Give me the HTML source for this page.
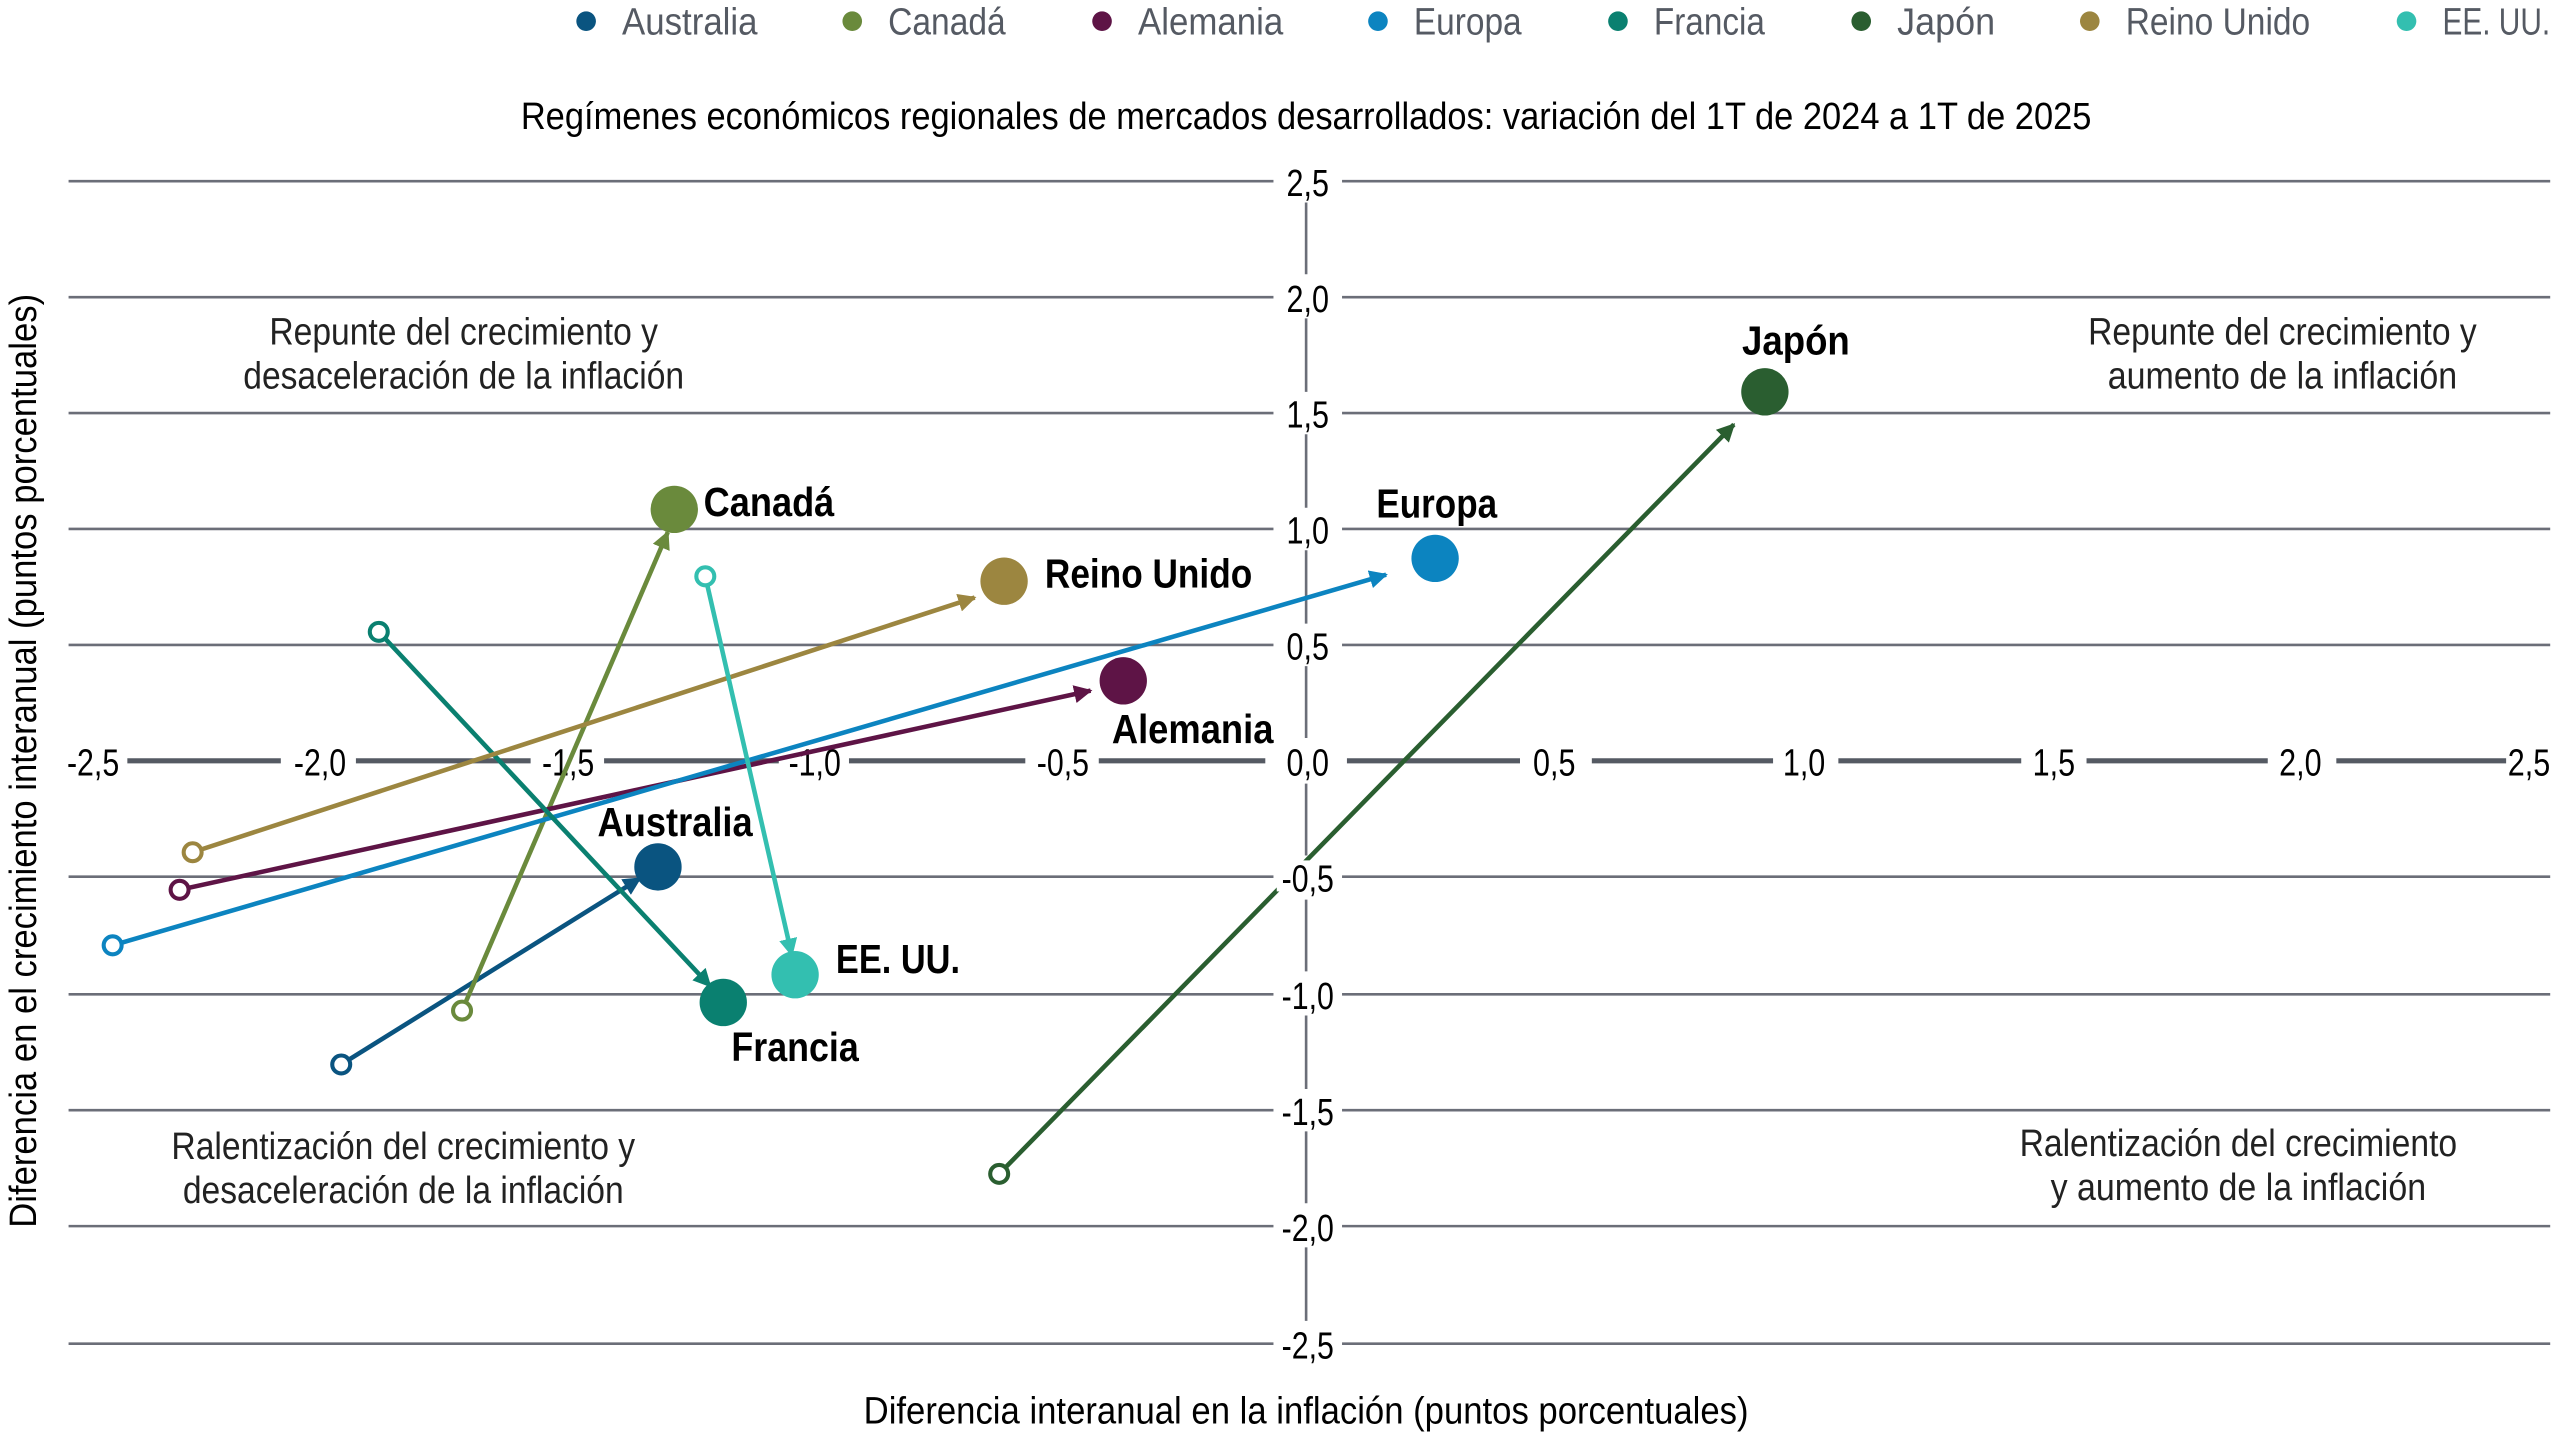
<!DOCTYPE html>
<html><head><meta charset="utf-8"><style>
html,body{margin:0;padding:0;background:#fff;}
svg{display:block;}
text{font-family:"Liberation Sans Narrow","Liberation Sans",sans-serif;}
</style></head><body>
<svg width="2560" height="1440" viewBox="0 0 1568 882" preserveAspectRatio="none" xmlns="http://www.w3.org/2000/svg">
<defs>
<marker id="m1" viewBox="0 0 10 10" refX="9" refY="5" markerWidth="4" markerHeight="4" orient="auto"><path d="M0,0L10,5L0,10z" fill="#0a5480"/></marker>
<marker id="m2" viewBox="0 0 10 10" refX="9" refY="5" markerWidth="4" markerHeight="4" orient="auto"><path d="M0,0L10,5L0,10z" fill="#6a8a3c"/></marker>
<marker id="m3" viewBox="0 0 10 10" refX="9" refY="5" markerWidth="4" markerHeight="4" orient="auto"><path d="M0,0L10,5L0,10z" fill="#5e1446"/></marker>
<marker id="m4" viewBox="0 0 10 10" refX="9" refY="5" markerWidth="4" markerHeight="4" orient="auto"><path d="M0,0L10,5L0,10z" fill="#0c84c0"/></marker>
<marker id="m5" viewBox="0 0 10 10" refX="9" refY="5" markerWidth="4" markerHeight="4" orient="auto"><path d="M0,0L10,5L0,10z" fill="#0a8070"/></marker>
<marker id="m6" viewBox="0 0 10 10" refX="9" refY="5" markerWidth="4" markerHeight="4" orient="auto"><path d="M0,0L10,5L0,10z" fill="#2a5e30"/></marker>
<marker id="m7" viewBox="0 0 10 10" refX="9" refY="5" markerWidth="4" markerHeight="4" orient="auto"><path d="M0,0L10,5L0,10z" fill="#9c8640"/></marker>
<marker id="m8" viewBox="0 0 10 10" refX="9" refY="5" markerWidth="4" markerHeight="4" orient="auto"><path d="M0,0L10,5L0,10z" fill="#33bfb0"/></marker>
</defs>

<!-- legend -->
<g font-size="23" fill="#555a63">
<circle cx="359" cy="13" r="6" fill="#0a5480"/><text x="381" y="21" textLength="83" lengthAdjust="spacingAndGlyphs">Australia</text>
<circle cx="522" cy="13" r="6" fill="#6a8a3c"/><text x="544" y="21" textLength="72" lengthAdjust="spacingAndGlyphs">Canadá</text>
<circle cx="675" cy="13" r="6" fill="#5e1446"/><text x="697" y="21" textLength="89" lengthAdjust="spacingAndGlyphs">Alemania</text>
<circle cx="844" cy="13" r="6" fill="#0c84c0"/><text x="866" y="21" textLength="66" lengthAdjust="spacingAndGlyphs">Europa</text>
<circle cx="991" cy="13" r="6" fill="#0a8070"/><text x="1013" y="21" textLength="68" lengthAdjust="spacingAndGlyphs">Francia</text>
<circle cx="1140" cy="13" r="6" fill="#2a5e30"/><text x="1162" y="21" textLength="60" lengthAdjust="spacingAndGlyphs">Japón</text>
<circle cx="1280" cy="13" r="6" fill="#9c8640"/><text x="1302" y="21" textLength="113" lengthAdjust="spacingAndGlyphs">Reino Unido</text>
<circle cx="1474" cy="13" r="6" fill="#33bfb0"/><text x="1496" y="21" textLength="66" lengthAdjust="spacingAndGlyphs">EE. UU.</text>
</g>

<text x="800" y="79" font-size="23" text-anchor="middle" fill="#000" textLength="962" lengthAdjust="spacingAndGlyphs">Regímenes económicos regionales de mercados desarrollados: variación del 1T de 2024 a 1T de 2025</text>

<!-- grid -->
<g stroke="#6b6e78" stroke-width="1.6">
<line x1="42" y1="111" x2="780" y2="111"/><line x1="822" y1="111" x2="1562" y2="111"/>
<line x1="42" y1="182" x2="780" y2="182"/><line x1="822" y1="182" x2="1562" y2="182"/>
<line x1="42" y1="253" x2="780" y2="253"/><line x1="822" y1="253" x2="1562" y2="253"/>
<line x1="42" y1="324" x2="780" y2="324"/><line x1="822" y1="324" x2="1562" y2="324"/>
<line x1="42" y1="395" x2="780" y2="395"/><line x1="822" y1="395" x2="1562" y2="395"/>
<line x1="42" y1="537" x2="780" y2="537"/><line x1="822" y1="537" x2="1562" y2="537"/>
<line x1="42" y1="609" x2="780" y2="609"/><line x1="822" y1="609" x2="1562" y2="609"/>
<line x1="42" y1="680" x2="780" y2="680"/><line x1="822" y1="680" x2="1562" y2="680"/>
<line x1="42" y1="751" x2="780" y2="751"/><line x1="822" y1="751" x2="1562" y2="751"/>
<line x1="42" y1="823" x2="780" y2="823"/><line x1="822" y1="823" x2="1562" y2="823"/>
<line x1="800" y1="124" x2="800" y2="168"/><line x1="800" y1="195" x2="800" y2="240"/>
<line x1="800" y1="266" x2="800" y2="311"/><line x1="800" y1="337" x2="800" y2="382"/>
<line x1="800" y1="408" x2="800" y2="452"/><line x1="800" y1="480" x2="800" y2="524"/>
<line x1="800" y1="551" x2="800" y2="595"/><line x1="800" y1="622" x2="800" y2="667"/>
<line x1="800" y1="693" x2="800" y2="737"/><line x1="800" y1="764" x2="800" y2="809"/>
</g>
<g stroke="#555a63" stroke-width="3.2">
<line x1="78" y1="466" x2="172" y2="466"/><line x1="218" y1="466" x2="325" y2="466"/>
<line x1="370" y1="466" x2="477" y2="466"/><line x1="520" y1="466" x2="628" y2="466"/>
<line x1="673" y1="466" x2="775" y2="466"/><line x1="825" y1="466" x2="931" y2="466"/>
<line x1="975" y1="466" x2="1086" y2="466"/><line x1="1126" y1="466" x2="1238" y2="466"/>
<line x1="1278" y1="466" x2="1389" y2="466"/><line x1="1431" y1="466" x2="1535" y2="466"/>
</g>

<!-- tick labels -->
<g font-size="23" fill="#000" text-anchor="middle">
<text x="801" y="120" textLength="26" lengthAdjust="spacingAndGlyphs">2,5</text><text x="801" y="191" textLength="26" lengthAdjust="spacingAndGlyphs">2,0</text><text x="801" y="262" textLength="26" lengthAdjust="spacingAndGlyphs">1,5</text>
<text x="801" y="333" textLength="26" lengthAdjust="spacingAndGlyphs">1,0</text><text x="801" y="404" textLength="26" lengthAdjust="spacingAndGlyphs">0,5</text><text x="801" y="475" textLength="26" lengthAdjust="spacingAndGlyphs">0,0</text>
<text x="801" y="760" textLength="32" lengthAdjust="spacingAndGlyphs">-2,0</text><text x="801" y="832" textLength="32" lengthAdjust="spacingAndGlyphs">-2,5</text>
<text x="801" y="618" textLength="32" lengthAdjust="spacingAndGlyphs">-1,0</text><text x="801" y="689" textLength="32" lengthAdjust="spacingAndGlyphs">-1,5</text>
<text x="57" y="475" textLength="32" lengthAdjust="spacingAndGlyphs">-2,5</text><text x="196" y="475" textLength="32" lengthAdjust="spacingAndGlyphs">-2,0</text><text x="348" y="475" textLength="32" lengthAdjust="spacingAndGlyphs">-1,5</text>
<text x="499" y="475" textLength="32" lengthAdjust="spacingAndGlyphs">-1,0</text><text x="651" y="475" textLength="32" lengthAdjust="spacingAndGlyphs">-0,5</text>
<text x="952" y="475" textLength="26" lengthAdjust="spacingAndGlyphs">0,5</text><text x="1105" y="475" textLength="26" lengthAdjust="spacingAndGlyphs">1,0</text><text x="1258" y="475" textLength="26" lengthAdjust="spacingAndGlyphs">1,5</text>
<text x="1409" y="475" textLength="26" lengthAdjust="spacingAndGlyphs">2,0</text><text x="1549" y="475" textLength="26" lengthAdjust="spacingAndGlyphs">2,5</text>
</g>

<!-- quadrant texts -->
<g font-size="23" fill="#222" text-anchor="middle">
<text x="284" y="211" textLength="238" lengthAdjust="spacingAndGlyphs">Repunte del crecimiento y</text><text x="284" y="238" textLength="270" lengthAdjust="spacingAndGlyphs">desaceleración de la inflación</text>
<text x="1398" y="211" textLength="238" lengthAdjust="spacingAndGlyphs">Repunte del crecimiento y</text><text x="1398" y="238" textLength="214" lengthAdjust="spacingAndGlyphs">aumento de la inflación</text>
<text x="247" y="710" textLength="284" lengthAdjust="spacingAndGlyphs">Ralentización del crecimiento y</text><text x="247" y="737" textLength="270" lengthAdjust="spacingAndGlyphs">desaceleración de la inflación</text>
<text x="1371" y="708" textLength="268" lengthAdjust="spacingAndGlyphs">Ralentización del crecimiento</text><text x="1371" y="735" textLength="230" lengthAdjust="spacingAndGlyphs">y aumento de la inflación</text>
</g>

<!-- axis titles -->
<text x="800" y="872" font-size="23" text-anchor="middle" fill="#000" textLength="542" lengthAdjust="spacingAndGlyphs">Diferencia interanual en la inflación (puntos porcentuales)</text>
<text transform="translate(22,466) rotate(-90)" font-size="23" text-anchor="middle" fill="#000" textLength="572" lengthAdjust="spacingAndGlyphs">Diferencia en el crecimiento interanual (puntos porcentuales)</text>

<!-- series -->
<g stroke-width="2.8" fill="none">
<line x1="209" y1="652" x2="392" y2="538" stroke="#0a5480" marker-end="url(#m1)"/>
<line x1="283" y1="619" x2="409" y2="326" stroke="#6a8a3c" marker-end="url(#m2)"/>
<line x1="110" y1="545" x2="668" y2="423" stroke="#5e1446" marker-end="url(#m3)"/>
<line x1="69" y1="579" x2="849" y2="352" stroke="#0c84c0" marker-end="url(#m4)"/>
<line x1="232" y1="387" x2="435" y2="604" stroke="#0a8070" marker-end="url(#m5)"/>
<line x1="612" y1="719" x2="1062" y2="260" stroke="#2a5e30" marker-end="url(#m6)"/>
<line x1="118" y1="522" x2="597" y2="366" stroke="#9c8640" marker-end="url(#m7)"/>
<line x1="432" y1="353" x2="485" y2="585" stroke="#33bfb0" marker-end="url(#m8)"/>
</g>
<rect x="782" y="527" width="38" height="19" fill="#fff"/>
<text x="801" y="546" font-size="23" fill="#000" text-anchor="middle" textLength="32" lengthAdjust="spacingAndGlyphs">-0,5</text>
<g fill="#fff" stroke-width="2.5">
<circle cx="209" cy="652" r="5.5" stroke="#0a5480"/>
<circle cx="283" cy="619" r="5.5" stroke="#6a8a3c"/>
<circle cx="110" cy="545" r="5.5" stroke="#5e1446"/>
<circle cx="69" cy="579" r="5.5" stroke="#0c84c0"/>
<circle cx="232" cy="387" r="5.5" stroke="#0a8070"/>
<circle cx="612" cy="719" r="5.5" stroke="#2a5e30"/>
<circle cx="118" cy="522" r="5.5" stroke="#9c8640"/>
<circle cx="432" cy="353" r="5.5" stroke="#33bfb0"/>
</g>
<circle cx="403" cy="531" r="14.5" fill="#0a5480"/>
<circle cx="413" cy="312" r="14.5" fill="#6a8a3c"/>
<circle cx="688" cy="417" r="14.5" fill="#5e1446"/>
<circle cx="879" cy="342" r="14.5" fill="#0c84c0"/>
<circle cx="443" cy="614" r="14.5" fill="#0a8070"/>
<circle cx="1081" cy="240" r="14.5" fill="#2a5e30"/>
<circle cx="615" cy="356" r="14.5" fill="#9c8640"/>
<circle cx="487" cy="597" r="14.5" fill="#33bfb0"/>

<g font-size="25" font-weight="bold" fill="#000">
<text x="431" y="316" textLength="80" lengthAdjust="spacingAndGlyphs">Canadá</text>
<text x="640" y="360" textLength="127" lengthAdjust="spacingAndGlyphs">Reino Unido</text>
<text x="843" y="317" textLength="74" lengthAdjust="spacingAndGlyphs">Europa</text>
<text x="1067" y="217" textLength="66" lengthAdjust="spacingAndGlyphs">Japón</text>
<text x="681" y="455" textLength="99" lengthAdjust="spacingAndGlyphs">Alemania</text>
<text x="366" y="512" textLength="95" lengthAdjust="spacingAndGlyphs">Australia</text>
<text x="512" y="596" textLength="76" lengthAdjust="spacingAndGlyphs">EE. UU.</text>
<text x="448" y="650" textLength="78" lengthAdjust="spacingAndGlyphs">Francia</text>
</g>
</svg>
</body></html>
